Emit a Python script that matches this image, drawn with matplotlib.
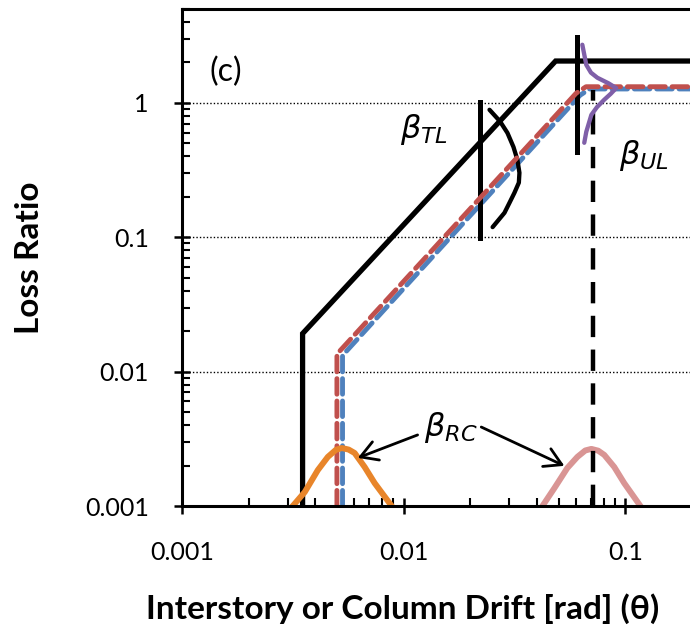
import matplotlib
matplotlib.use("Agg")
import matplotlib.pyplot as plt

plt.rcParams['font.family'] = ['Lato', 'DejaVu Sans']
plt.rcParams['mathtext.fontset'] = 'dejavusans'

# ---- data ----
x_ticks = [0.001, 0.01, 0.1]
x_tick_labels = ['0.001', '0.01', '0.1']
y_ticks = [0.001, 0.01, 0.1, 1]
y_tick_labels = ['0.001', '0.01', '0.1', '1']

black_drift = [0.0035, 0.0035, 0.0485, 0.25]
black_loss = [0.001, 0.0192, 2.05, 2.05]

red_drift = [0.0050, 0.0050, 0.0600, 0.0665, 0.25]
red_loss = [0.001, 0.0135, 1.18, 1.32, 1.32]

blue_drift = [0.0053, 0.0053, 0.0625, 0.0690, 0.25]
blue_loss = [0.001, 0.0132, 1.14, 1.27, 1.27]

ul_dash_drift = [0.0718, 0.0718]
ul_dash_loss = [0.001, 1.25]

tl_bar_drift = [0.022, 0.022]
tl_bar_loss = [0.099, 1.02]

ul_bar_drift = [0.0605, 0.0605]
ul_bar_loss = [0.43, 3.1]

tl_arc_drift = [0.0244, 0.0272, 0.0294, 0.0313, 0.0326, 0.0333, 0.0331, 0.0316, 0.0300, 0.0285, 0.0252]
tl_arc_loss = [0.889, 0.73, 0.598, 0.47, 0.377, 0.302, 0.255, 0.214, 0.180, 0.152, 0.119]

ul_pdf_drift = [0.0640, 0.0667, 0.0700, 0.0748, 0.0840, 0.0910, 0.0860, 0.0803, 0.0745, 0.0703, 0.0667, 0.0653]
ul_pdf_loss = [2.71, 1.92, 1.68, 1.54, 1.40, 1.29, 1.17, 1.055, 0.93, 0.815, 0.61, 0.505]

rc1_drift = [0.00316, 0.00358, 0.0041, 0.00455, 0.00495, 0.00526, 0.00565, 0.00601, 0.00667, 0.0074, 0.00883]
rc1_loss = [0.001, 0.00127, 0.00185, 0.00232, 0.00262, 0.0027, 0.00263, 0.00248, 0.00195, 0.00148, 0.001]

rc2_drift = [0.0423, 0.0479, 0.0548, 0.0608, 0.0660, 0.0703, 0.0755, 0.0804, 0.0892, 0.0989, 0.117]
rc2_loss = [0.001, 0.00136, 0.00192, 0.00232, 0.00259, 0.00266, 0.00258, 0.0024, 0.00195, 0.00148, 0.001]

# ---- figure ----
fig = plt.figure(figsize=(6.9, 6.33), dpi=100)
ax = fig.add_axes([182/690, 127/633, 510/690, 497/633])
ax.set_xscale('log')
ax.set_yscale('log')
ax.set_xlim(0.001, 0.2)
ax.set_ylim(0.001, 5)

ax.yaxis.grid(True, which='major', linestyle=(0, (1, 1.5)), color='black', lw=1.0)
ax.set_axisbelow(True)

ax.plot(black_drift, black_loss, color='black', lw=3.8, solid_joinstyle='miter', zorder=3)
ax.plot(blue_drift, blue_loss, color='#4F81BD', lw=3.5, linestyle=(0, (3.2, 1.4)),
        dash_capstyle='round', zorder=3)
ax.plot(red_drift, red_loss, color='#C0504D', lw=3.5, linestyle=(0, (3.2, 1.4)),
        dash_capstyle='round', zorder=3.1)
ax.plot(ul_dash_drift, ul_dash_loss, color='black', lw=3.2, linestyle=(0, (4.8, 2.8)), zorder=3)
ax.plot(tl_bar_drift, tl_bar_loss, color='black', lw=3.6, zorder=3)
ax.plot(ul_bar_drift, ul_bar_loss, color='black', lw=3.6, zorder=3)
ax.plot(tl_arc_drift, tl_arc_loss, color='black', lw=3.1, zorder=3, solid_capstyle='round',
        solid_joinstyle='round')
ax.plot(ul_pdf_drift, ul_pdf_loss, color='#7F5FA8', lw=3.1, zorder=4, solid_capstyle='round',
        solid_joinstyle='round')
ax.plot(rc1_drift, rc1_loss, color='#E8852A', lw=4.3, zorder=4, solid_joinstyle='round')
ax.plot(rc2_drift, rc2_loss, color='#D99594', lw=4.3, zorder=2.9, solid_joinstyle='round')

# labels
ax.text(0.0123, 0.63, r'$\beta_{TL}$', fontsize=23, ha='center', va='center', zorder=5)
ax.text(0.121, 0.404, r'$\beta_{UL}$', fontsize=23, ha='center', va='center', zorder=5)
ax.text(0.0163, 0.00381, r'$\beta_{RC}$', fontsize=23, ha='center', va='center', zorder=5)
ax.text(0.086, 0.873, '(c)', fontsize=23, ha='center', va='center', transform=ax.transAxes)

arrow = dict(arrowstyle='->,head_length=0.6,head_width=0.35', lw=2.0, color='black',
             mutation_scale=20, shrinkA=0, shrinkB=0)
ax.annotate('', xy=(0.00621, 0.00228), xytext=(0.01156, 0.00338), arrowprops=arrow, zorder=5)
ax.annotate('', xy=(0.0531, 0.00199), xytext=(0.0224, 0.00387), arrowprops=arrow, zorder=5)

# axes styling
ax.spines['right'].set_visible(False)
for s in ['left', 'bottom', 'top']:
    ax.spines[s].set_linewidth(2.2)
    ax.spines[s].set_zorder(6)

ax.set_xticks(x_ticks)
ax.set_xticklabels(x_tick_labels)
ax.set_yticks(y_ticks)
ax.set_yticklabels(y_tick_labels)
ax.tick_params(which='major', direction='inout', length=12, width=1.8, labelsize=18, pad=19)
ax.tick_params(which='minor', direction='in', length=6, width=1.5)
ax.tick_params(axis='y', which='major', pad=18)
ax.tick_params(top=False, right=False, which='both')

ax.set_xlabel('Interstory or Column Drift [rad] (θ)', fontsize=24, fontweight='bold')
ax.set_ylabel('Loss Ratio', fontsize=24, fontweight='bold')
ax.xaxis.set_label_coords(0.433, -0.176)
ax.yaxis.set_label_coords(-0.27, 0.5)

fig.savefig('out.png', dpi=100)
